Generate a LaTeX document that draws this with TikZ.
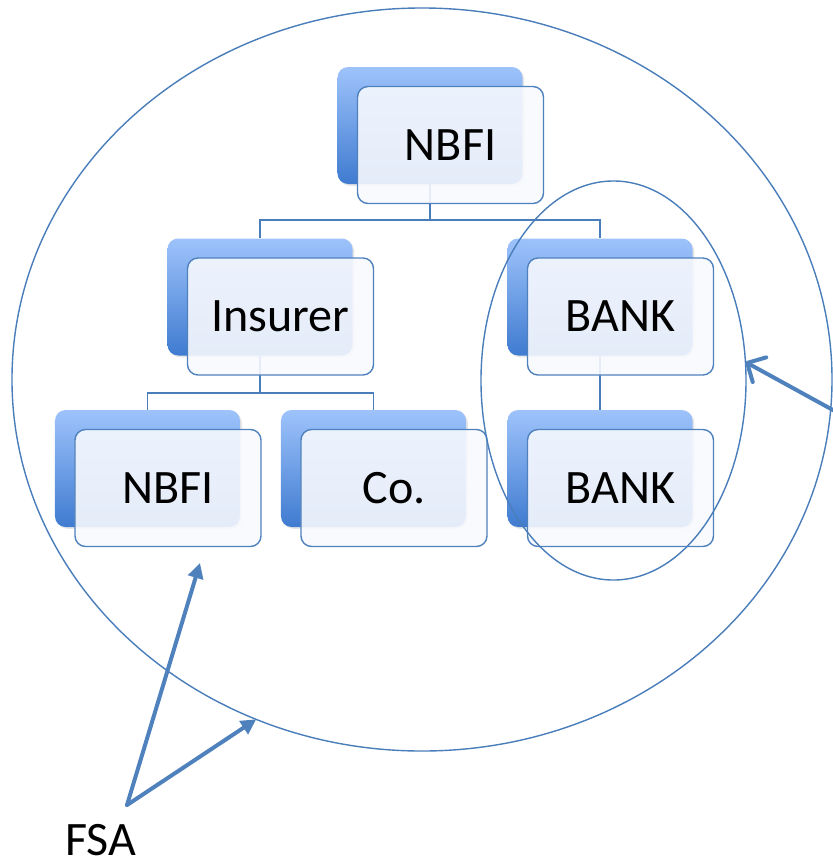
\documentclass[tikz,border=0pt]{standalone}
\usepackage{fontspec}
\setmainfont{Carlito}
\usetikzlibrary{arrows.meta,shapes.geometric,backgrounds,shadows}

\definecolor{ringblue}{HTML}{4A7EBB}
\definecolor{boxedge}{HTML}{4F81BD}
\definecolor{backtop}{HTML}{9EC3FB}
\definecolor{backbot}{HTML}{3F7BD0}
\definecolor{frontfill}{HTML}{F7F9FE}

\begin{document}
\begin{tikzpicture}[
    x=0.03cm, y=-0.03cm,
    font=\fontsize{41}{48}\selectfont,
    back/.style={rounded corners=9pt, top color=backtop, bottom color=backbot, minimum width=5.55cm, minimum height=3.51cm,
        drop shadow={shadow xshift=1.5pt, shadow yshift=-1.5pt, opacity=0.2}},
    front/.style={draw=boxedge, line width=1.2pt, rounded corners=9pt, fill=frontfill, fill opacity=0.9, text opacity=1,
        minimum width=5.58cm, minimum height=3.51cm, shift={(20.5,19.5)}},
    tree/.style={draw=ringblue, line width=1.4pt},
    ring/.style={draw=ringblue, line width=1.2pt, ellipse, inner sep=0pt, outer sep=0pt},
    pointer/.style={draw=boxedge, line width=3.4pt, line cap=round, -{Triangle[length=13pt,width=13pt]}}
]
\useasboundingbox (0,0) rectangle (832,862);

% outer FSA ring
\node[ring, minimum width=24.6cm, minimum height=22.29cm] (firm) at (422,379.5) {};

% back boxes
\node[back] (topB) at (430,125.5) {};
\node[back] (insB) at (260,297) {};
\node[back] (bankB) at (600,297) {};
\node[back] (nbfiB) at (147.5,468.5) {};
\node[back] (coB) at (373.5,468.5) {};
\node[back] (bankLowB) at (600,468.5) {};

% front boxes
\node[front] (top) at (topB) {NBFI};
\node[front] (ins) at (insB) {Insurer};
\node[front] (bank) at (bankB) {BANK};
\node[front] (nbfi) at (nbfiB) {NBFI};
\node[front] (co) at (coB) {Co.};
\node[front] (bankLow) at (bankLowB) {BANK};

% tree connectors
\begin{scope}[on background layer]
\draw[tree] (topB.south) -- +(0,36) coordinate (jTop);
\draw[tree] (jTop) -| (insB.north);
\draw[tree] (jTop) -| (bankB.north);
\draw[tree] (insB.south) -- +(0,37.5) coordinate (jIns);
\draw[tree] (jIns) -| (nbfiB.north);
\draw[tree] (jIns) -| (coB.north);
\draw[tree] (bankB.south) -- (bankLowB.north);
\end{scope}

% bank ring
\node[ring, minimum width=7.95cm, minimum height=11.97cm] (bankring) at (613.5,380.5) {};

% FSA label and pointers
\node[inner sep=0pt] (fsa) at (101,840) {FSA};
\coordinate (fsaPt) at (127,805);
\coordinate (boxPt) at (200,563);
\coordinate (rightPt) at (842,415);
\draw[pointer] (fsaPt) -- (boxPt);
\draw[pointer] (fsaPt) -- (firm.244);
\draw[pointer, -{Straight Barb[length=12pt,width=24pt,round]}] (rightPt) -- (bankring.8);
\end{tikzpicture}
\end{document}
